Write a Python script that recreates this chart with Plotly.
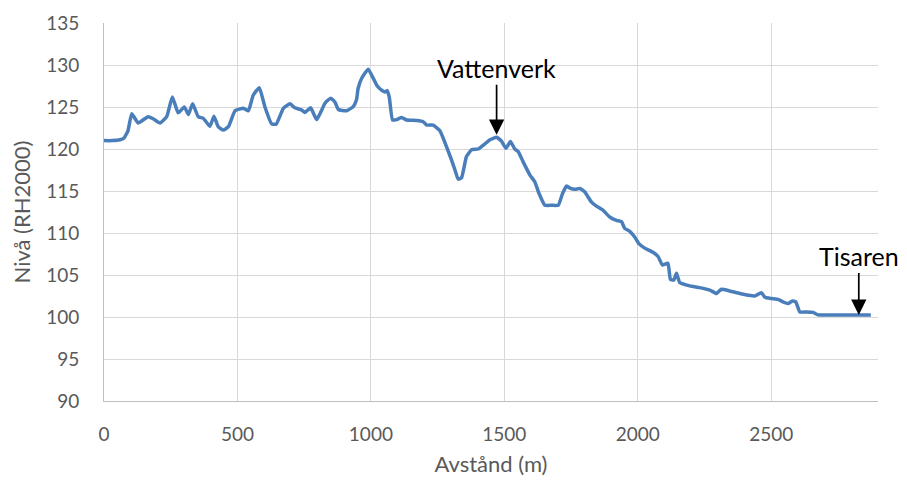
import plotly.graph_objects as go

# Distance along profile (m)
avstand = [0, 30, 60, 75, 90, 104, 128, 165, 184, 210, 235, 256, 278, 301, 316, 332, 353, 372,
           397, 412, 428, 447, 466, 491, 522, 541, 559, 582, 603, 628, 645, 672, 697, 715, 740,
           753, 774, 797, 828, 849, 865, 878, 909, 934, 946, 952, 965, 990, 1009, 1024, 1040,
           1052, 1061, 1069, 1081, 1096, 1115, 1134, 1171, 1196, 1209, 1233, 1258, 1277, 1302,
           1315, 1327, 1340, 1358, 1377, 1402, 1427, 1446, 1471, 1490, 1506, 1523, 1539, 1552,
           1570, 1596, 1614, 1630, 1652, 1677, 1702, 1718, 1733, 1748, 1764, 1783, 1801, 1826,
           1845, 1870, 1895, 1920, 1939, 1951, 1970, 1989, 2005, 2026, 2057, 2076, 2092, 2113,
           2122, 2135, 2145, 2157, 2195, 2232, 2270, 2295, 2313, 2345, 2382, 2413, 2438, 2463,
           2476, 2500, 2526, 2544, 2563, 2579, 2592, 2607, 2632, 2657, 2675, 2750, 2800, 2873]
# Level (RH2000)
niva = [121.0, 121.0, 121.1, 121.3, 122.2, 124.2, 123.1, 123.85, 123.6, 123.1, 123.85, 126.2,
        124.3, 125.0, 124.1, 125.4, 123.85, 123.65, 122.7, 123.9, 122.65, 122.25, 122.65, 124.55,
        124.85, 124.55, 126.4, 127.3, 125.0, 123.0, 122.95, 124.85, 125.4, 124.9, 124.65, 124.35,
        124.9, 123.5, 125.45, 126.05, 125.6, 124.7, 124.55, 125.05, 125.85, 127.2, 128.4, 129.5,
        128.4, 127.5, 127.0, 126.8, 126.95, 126.15, 123.45, 123.5, 123.75, 123.45, 123.4, 123.25,
        122.85, 122.85, 122.2, 120.8, 118.7, 117.5, 116.4, 116.6, 119.1, 119.9, 120.0, 120.6,
        121.1, 121.4, 120.9, 120.1, 120.9, 120.0, 119.7, 118.5, 116.9, 116.1, 114.7, 113.3, 113.3,
        113.3, 114.7, 115.6, 115.3, 115.2, 115.3, 114.9, 113.7, 113.2, 112.7, 111.9, 111.5, 111.35,
        110.55, 110.2, 109.5, 108.7, 108.2, 107.7, 107.2, 106.2, 106.4, 104.5, 104.4, 105.2, 104.1,
        103.7, 103.5, 103.2, 102.8, 103.3, 103.1, 102.8, 102.6, 102.5, 102.9, 102.35, 102.2, 102.1,
        101.8, 101.6, 101.9, 101.8, 100.6, 100.6, 100.55, 100.25, 100.25, 100.25, 100.25]

x_ticks = [0, 500, 1000, 1500, 2000, 2500]
y_ticks = [90, 95, 100, 105, 110, 115, 120, 125, 130, 135]

font_family = "Lato, 'Open Sans', sans-serif"

fig = go.Figure()
fig.add_trace(go.Scatter(x=avstand, y=niva, mode="lines",
                         line=dict(color="#4a7ebb", width=3.5, shape="spline", smoothing=0.4),
                         hoverinfo="x+y", showlegend=False))

fig.add_annotation(x=1471, y=121.7, text="Vattenverk", showarrow=True,
                   arrowhead=2, arrowsize=1.8, arrowwidth=1.7, arrowcolor="black",
                   ax=0, ay=-50, font=dict(size=25, color="black", family=font_family),
                   yanchor="bottom")
fig.add_annotation(x=2828, y=100.25, text="Tisaren", showarrow=True,
                   arrowhead=2, arrowsize=1.8, arrowwidth=1.7, arrowcolor="black",
                   ax=0, ay=-42, font=dict(size=25, color="black", family=font_family),
                   yanchor="bottom")

fig.update_layout(
    width=899, height=474,
    margin=dict(l=96, r=29, t=15, b=81, autoexpand=False),
    paper_bgcolor="white", plot_bgcolor="white",
    font=dict(family=font_family, color="#595959", size=19),
    xaxis=dict(range=[0, 2900], tickvals=x_ticks, showgrid=True, gridcolor="#d9d9d9",
               gridwidth=1, showline=True, linecolor="#bfbfbf", linewidth=1,
               zeroline=False, ticks="", ticklabelstandoff=16, automargin=False,
               tickfont=dict(size=19, color="#595959"),
               title=dict(text="Avstånd (m)", font=dict(size=22, color="#595959"), standoff=12)),
    yaxis=dict(range=[90, 135], tickvals=y_ticks, showgrid=True, gridcolor="#d9d9d9",
               gridwidth=1, showline=True, linecolor="#bfbfbf", linewidth=1,
               zeroline=False, ticks="", ticklabelstandoff=20, automargin=False,
               tickfont=dict(size=19, color="#595959"),
               title=dict(text="Nivå (RH2000)", font=dict(size=22, color="#595959"), standoff=10)),
)

fig.write_html("out.html")
